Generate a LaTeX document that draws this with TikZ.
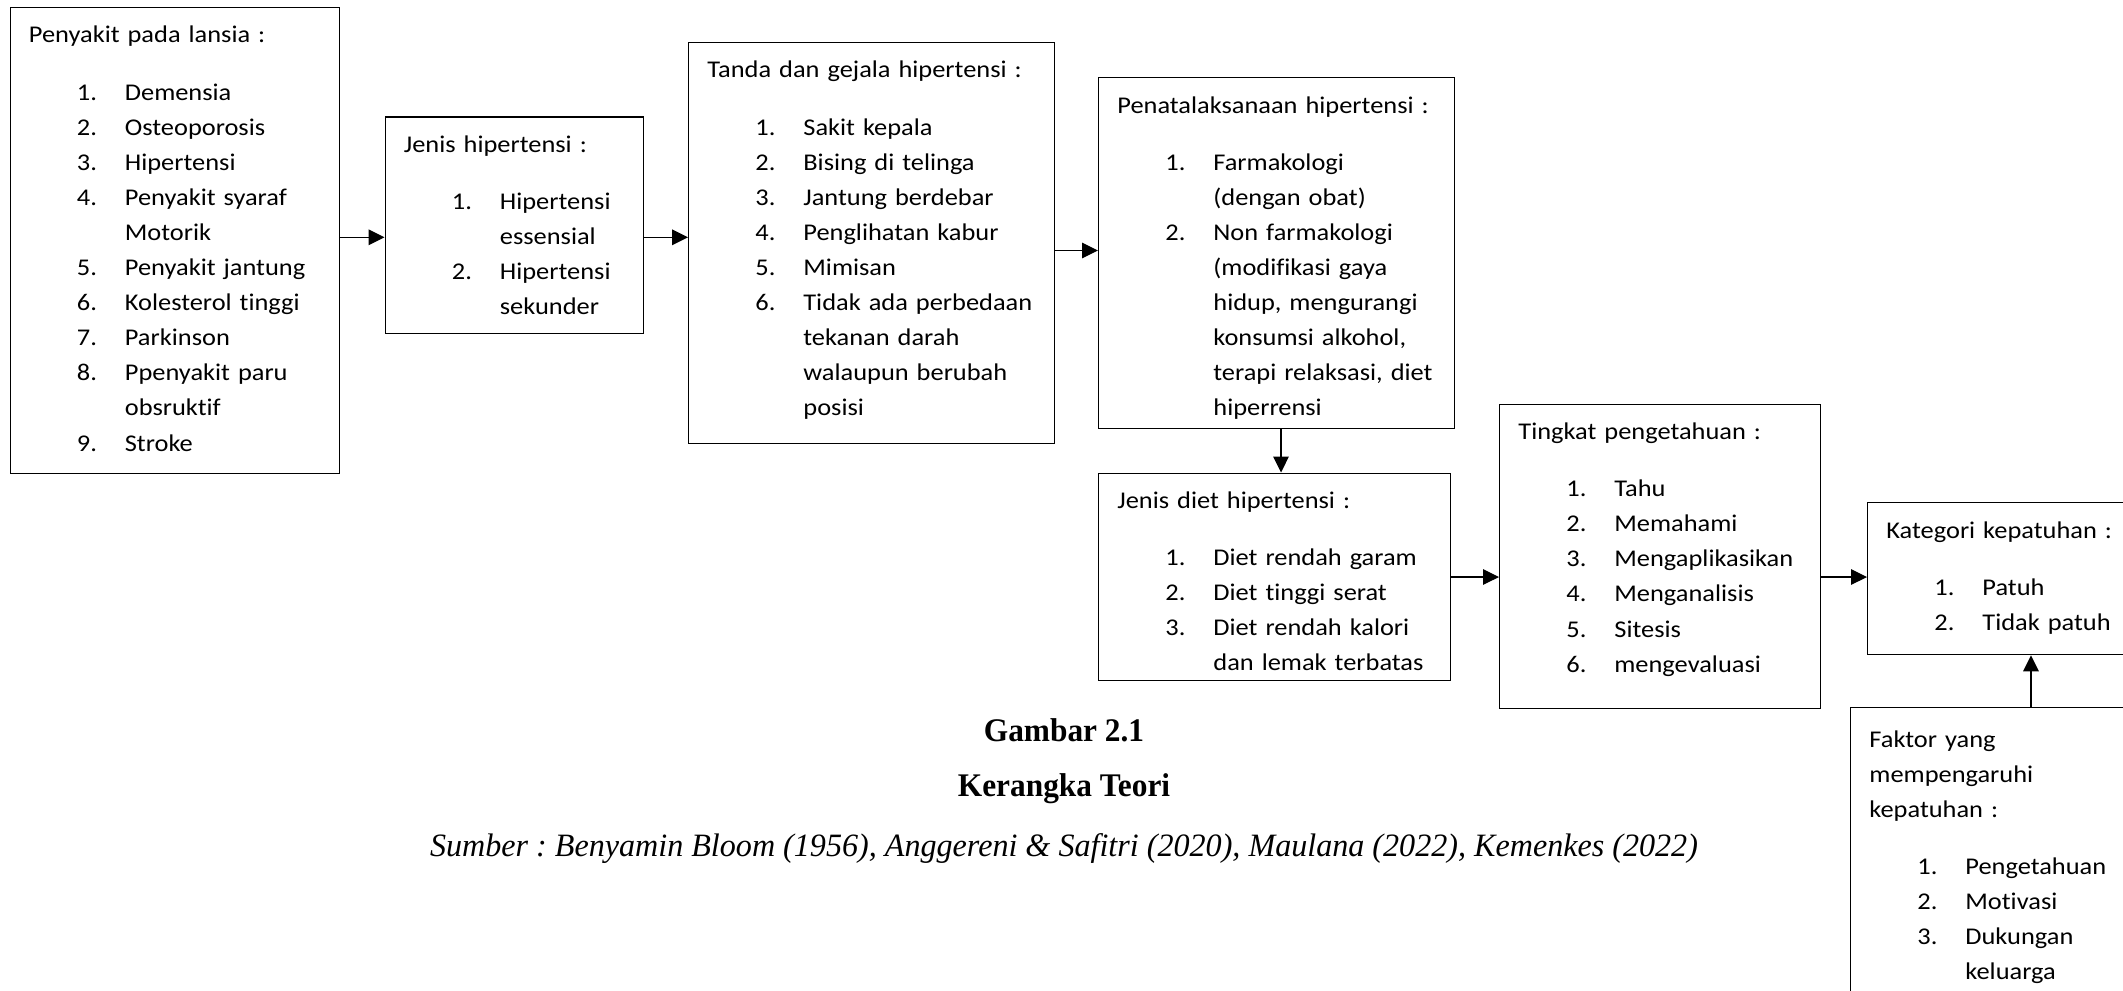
\documentclass[tikz,border=0pt]{standalone}
\usepackage{fontspec}
\setmainfont{Carlito}[FakeStretch=1.1,Ligatures=NoCommon]
\newfontfamily\capbf{Liberation Serif Bold}[FakeStretch=0.95]
\newfontfamily\capit{Liberation Serif Italic}[FakeStretch=0.985]
\usetikzlibrary{arrows.meta,calc}
\frenchspacing
\newcommand{\nitem}[2]{\hspace*{24pt}\makebox[24pt][l]{#1}#2}
\newcommand{\ncont}[1]{\hspace*{48pt}#1}
\begin{document}
\begin{tikzpicture}[x=0.5pt,y=-0.5pt,
  box/.style={draw, line width=0.65pt, rectangle, inner sep=0pt, anchor=north west},
  txt/.style={anchor=base west, inner sep=0pt, text width=260pt, align=left,
    font=\fontsize{12}{17.55}\selectfont},
  arr/.style={line width=0.65pt, -{Triangle[length=8pt,width=7.8pt]}},
  captxt/.style={inner sep=0pt, anchor=base},
]
\useasboundingbox (0,0) rectangle (2123,990);
\begin{scope}
\clip (0,0) rectangle (2123,990);
% boxes
\node[box, minimum width=164.5pt, minimum height=232.75pt] (b1) at (9.5,7) {};
\node[box, minimum width=129.25pt, minimum height=108.25pt] (b2) at (384.5,116.5) {};
\node[box, minimum width=182.75pt, minimum height=200.5pt] (b3) at (688,42) {};
\node[box, minimum width=178pt, minimum height=175.5pt] (b4) at (1098,77) {};
\node[box, minimum width=176pt, minimum height=103.75pt] (b5) at (1098,472.5) {};
\node[box, minimum width=160.5pt, minimum height=152.25pt] (b6) at (1499,403.5) {};
\node[box, minimum width=150pt, minimum height=76pt] (b7) at (1867,502) {};
\node[box, minimum width=160pt, minimum height=160pt] (b8) at (1850,707) {};

% texts
\node[txt] (t1) at ([xshift=9.5pt,yshift=-18pt]b1.north west) {Penyakit pada lansia :\\[11pt]
\nitem{1.}{Demensia}\\
\nitem{2.}{Osteoporosis}\\
\nitem{3.}{Hipertensi}\\
\nitem{4.}{Penyakit syaraf}\\
\ncont{Motorik}\\
\nitem{5.}{Penyakit jantung}\\
\nitem{6.}{Kolesterol tinggi}\\
\nitem{7.}{Parkinson}\\
\nitem{8.}{Ppenyakit paru}\\
\ncont{obsruktif}\\
\nitem{9.}{Stroke}};

\node[txt] (t2) at ([xshift=9.5pt,yshift=-18pt]b2.north west) {Jenis hipertensi :\\[11pt]
\nitem{1.}{Hipertensi}\\
\ncont{essensial}\\
\nitem{2.}{Hipertensi}\\
\ncont{sekunder}};

\node[txt] (t3) at ([xshift=9.5pt,yshift=-18pt]b3.north west) {Tanda dan gejala hipertensi :\\[11pt]
\nitem{1.}{Sakit kepala}\\
\nitem{2.}{Bising di telinga}\\
\nitem{3.}{Jantung berdebar}\\
\nitem{4.}{Penglihatan kabur}\\
\nitem{5.}{Mimisan}\\
\nitem{6.}{Tidak ada perbedaan}\\
\ncont{tekanan darah}\\
\ncont{walaupun berubah}\\
\ncont{posisi}};

\node[txt] (t4) at ([xshift=9.5pt,yshift=-18pt]b4.north west) {Penatalaksanaan hipertensi :\\[11pt]
\nitem{1.}{Farmakologi}\\
\ncont{(dengan obat)}\\
\nitem{2.}{Non farmakologi}\\
\ncont{(modifikasi gaya}\\
\ncont{hidup, mengurangi}\\
\ncont{konsumsi alkohol,}\\
\ncont{terapi relaksasi, diet}\\
\ncont{hiperrensi}};

\node[txt] (t5) at ([xshift=9.5pt,yshift=-18pt]b5.north west) {Jenis diet hipertensi :\\[11pt]
\nitem{1.}{Diet rendah garam}\\
\nitem{2.}{Diet tinggi serat}\\
\nitem{3.}{Diet rendah kalori}\\
\ncont{dan lemak terbatas}};

\node[txt] (t6) at ([xshift=9.5pt,yshift=-18pt]b6.north west) {Tingkat pengetahuan :\\[11pt]
\nitem{1.}{Tahu}\\
\nitem{2.}{Memahami}\\
\nitem{3.}{Mengaplikasikan}\\
\nitem{4.}{Menganalisis}\\
\nitem{5.}{Sitesis}\\
\nitem{6.}{mengevaluasi}};

\node[txt] (t7) at ([xshift=9.5pt,yshift=-18pt]b7.north west) {Kategori kepatuhan :\\[11pt]
\nitem{1.}{Patuh}\\
\nitem{2.}{Tidak patuh}};

\node[txt] (t8) at ([xshift=9.5pt,yshift=-20pt]b8.north west) {Faktor yang\\
mempengaruhi\\
kepatuhan :\\[11pt]
\nitem{1.}{Pengetahuan}\\
\nitem{2.}{Motivasi}\\
\nitem{3.}{Dukungan}\\
\ncont{keluarga}};

% connectors
\coordinate (ya) at (0,237.3);
\coordinate (yb) at (0,250.5);
\coordinate (xc) at (1281,0);
\coordinate (yd) at (0,577);
\coordinate (xe) at (2031,0);
\draw[arr] (b1.east |- ya) -- (b2.west |- ya);
\draw[arr] (b2.east |- ya) -- (b3.west |- ya);
\draw[arr] (b3.east |- yb) -- (b4.west |- yb);
\draw[arr] (b4.south -| xc) -- (b5.north -| xc);
\draw[arr] (b5.east |- yd) -- (b6.west |- yd);
\draw[arr] (b6.east |- yd) -- (b7.west |- yd);
\draw[arr] (b8.north -| xe) -- (b7.south -| xe);
\end{scope}

% caption
\node[captxt, font=\capbf\fontsize{16.5}{18}\selectfont] (c1) at (1064,741.5) {Gambar 2.1};
\node[captxt, font=\capbf\fontsize{16.5}{18}\selectfont] (c2) at (1064,796.5) {Kerangka Teori};
\node[captxt, font=\capit\fontsize{16.3}{18}\selectfont] (c3) at (1064,856) {Sumber : Benyamin Bloom (1956), Anggereni \& Safitri (2020), Maulana (2022), Kemenkes (2022)};
\end{tikzpicture}
\end{document}
